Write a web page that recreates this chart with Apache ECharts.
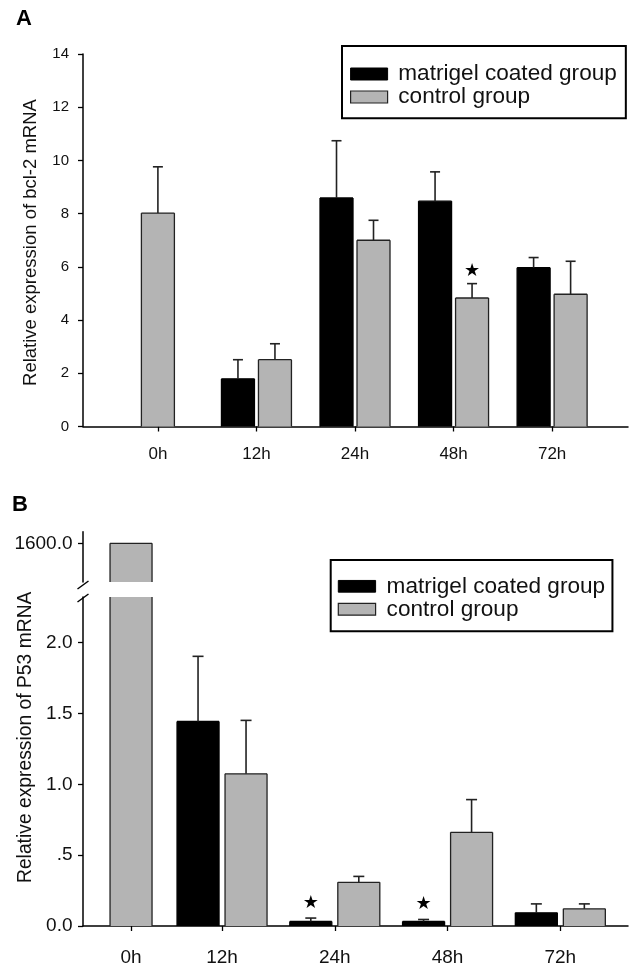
<!DOCTYPE html>
<html><head><meta charset="utf-8">
<script src="https://cdn.jsdelivr.net/npm/echarts@6/dist/echarts.min.js"></script>
<style>html,body{margin:0;padding:0;background:#fff}#c{width:629px;height:967px}</style>
</head><body><div id="c"></div>
<script>
// ---------------- data ----------------
const categories = ['0h', '12h', '24h', '48h', '72h'];
const seriesNames = ['matrigel coated group', 'control group'];

// Panel A: relative expression of bcl-2 mRNA
const A_matrigel    = [null, 1.79, 8.59, 8.47, 5.97];
const A_matrigelErr = [null, 0.72, 2.15, 1.10, 0.38];
const A_control     = [8.02, 2.51, 7.00, 4.83, 4.97];
const A_controlErr  = [1.74, 0.60, 0.75, 0.54, 1.24];
const A_matrigelStar = [false, false, false, false, false];
const A_controlStar  = [false, false, false, true, false];
const A_yTicks = [0, 2, 4, 6, 8, 10, 12, 14];

// Panel B: relative expression of P53 mRNA (broken axis)
const B_matrigel    = [null, 1.444, 0.032, 0.032, 0.093];
const B_matrigelErr = [null, 0.459, 0.024, 0.014, 0.063];
const B_control     = [1600.0, 1.074, 0.308, 0.661, 0.121];
const B_controlErr  = [null, 0.377, 0.042, 0.231, 0.035];
const B_matrigelStar = [false, false, true, true, false];
const B_controlStar  = [false, false, false, false, false];
const B_yTicks = [0, 0.5, 1, 1.5, 2];
const B_yTickLabels = ['0.0', '.5', '1.0', '1.5', '2.0'];
const B_yTicksTop = [1600];
const B_yTickLabelsTop = ['1600.0'];

// ---------------- layout ----------------
const A_slot = [0, 1, 2, 3, 4];
const B_slot = [0.193, 1, 2, 3, 4];
const FONT = 'Liberation Sans, Arial, sans-serif';
const TXT = '#111';
const BLACK = '#000', GRAY = '#b4b4b4', EDGE = '#222';

function buildData(slots, vals, errs, stars, other) {
  const out = [];
  vals.forEach((v, i) => {
    if (v == null) return;
    out.push([slots[i], v, errs[i] == null ? NaN : v + errs[i], stars[i] ? 1 : 0, other[i] == null ? 0 : 1]);
  });
  return out;
}

function barRenderer(cfg) {
  return function (params, api) {
    const cs = params.coordSys;
    const xv = api.value(0), v = api.value(1), et = api.value(2), star = api.value(3), paired = api.value(4);
    const c = api.coord([xv, v]);
    const cx = c[0] + (paired ? cfg.offset : 0);
    const rawTop = c[1];
    const rawBottom = api.coord([xv, cfg.base])[1];
    const gTop = cs.y, gBot = cs.y + cs.height;
    const top = Math.max(rawTop, gTop), bottom = Math.min(rawBottom, gBot);
    const w = cfg.barW, L = cx - w / 2, R = cx + w / 2;
    const ls = { stroke: cfg.stroke, lineWidth: cfg.lw };
    const ch = [
      { type: 'rect', shape: { x: L, y: top, width: w, height: bottom - top }, style: { fill: cfg.fill } },
      { type: 'line', shape: { x1: L, y1: top, x2: L, y2: bottom }, style: ls },
      { type: 'line', shape: { x1: R, y1: top, x2: R, y2: bottom }, style: ls }
    ];
    if (rawTop >= gTop) ch.push({ type: 'line', shape: { x1: L, y1: top, x2: R, y2: top }, style: ls });
    let markY = top;
    if (!isNaN(et)) {
      const ey = api.coord([xv, et])[1];
      const es = { stroke: '#222', lineWidth: 1.6 };
      ch.push({ type: 'line', shape: { x1: cx, y1: top, x2: cx, y2: ey }, style: es });
      ch.push({ type: 'line', shape: { x1: cx - cfg.capW / 2, y1: ey, x2: cx + cfg.capW / 2, y2: ey }, style: es });
      markY = ey;
    }
    if (star) {
      ch.push({ type: 'text', x: cx, y: markY - cfg.starGap,
        style: { text: '\u2605', fill: '#000', font: '18px DejaVu Sans', align: 'center', verticalAlign: 'middle' } });
    }
    return { type: 'group', children: ch };
  };
}

function breakRenderer(where) {
  return function (params) {
    const cs = params.coordSys;
    const x = cs.x;
    const y = where === 'bottom' ? cs.y + cs.height + 3 : cs.y + 1;
    return { type: 'line', shape: { x1: x - 5.5, y1: y + 4, x2: x + 5.5, y2: y - 4 },
      style: { stroke: '#000', lineWidth: 1.4 } };
  };
}

const axisLine = { show: true, onZero: false, lineStyle: { color: '#000', width: 1.5 } };
const axisTick = { show: true, inside: false, length: 5, lineStyle: { color: '#000', width: 1.3 } };

function xLabelFmt(slots) {
  return function (v) {
    let best = 0;
    slots.forEach((s, i) => { if (Math.abs(s - v) < Math.abs(slots[best] - v)) best = i; });
    return categories[best];
  };
}

const legendItems = [
  { name: seriesNames[0], icon: 'rect', itemStyle: { color: BLACK, borderColor: BLACK, borderWidth: 1 } },
  { name: seriesNames[1], icon: 'rect', itemStyle: { color: GRAY, borderColor: EDGE, borderWidth: 1.2 } }
];

const option = {
  animation: false,
  backgroundColor: '#fff',
  textStyle: { fontFamily: FONT, color: TXT },
  title: [
    { text: 'A', left: 16, top: 8, padding: 0, textStyle: { fontSize: 22, lineHeight: 22, fontWeight: 'bold', fontFamily: FONT, color: '#000' } },
    { text: 'B', left: 12, top: 494, padding: 0, textStyle: { fontSize: 22, lineHeight: 22, fontWeight: 'bold', fontFamily: FONT, color: '#000' } }
  ],
  legend: [
    { left: 342, top: 46, orient: 'vertical', data: legendItems, selectedMode: false,
      itemWidth: 37, itemHeight: 12, itemGap: 0, padding: [16.5, 9, 9.7, 8],
      borderColor: '#000', borderWidth: 2,
      textStyle: { fontFamily: FONT, fontSize: 22.6, lineHeight: 22, color: TXT, padding: [0, 0, 0, 5.7] } },
    { left: 330.7, top: 560, orient: 'vertical', data: legendItems, selectedMode: false,
      itemWidth: 37.3, itemHeight: 11.7, itemGap: 0, padding: [14.8, 7.3, 10.5, 7],
      borderColor: '#000', borderWidth: 2,
      textStyle: { fontFamily: FONT, fontSize: 22.6, lineHeight: 21.7, color: TXT, padding: [0, 0, 0, 6] } }
  ],
  grid: [
    { left: 83, top: 54, width: 545, height: 372.5 },
    { left: 83, top: 531.7, width: 545, height: 50.3 },
    { left: 83, top: 597, width: 545, height: 331.3 }
  ],
  xAxis: [
    { type: 'value', gridIndex: 0, min: -0.76, max: 4.77, splitLine: { show: false }, axisLine,
      axisTick: Object.assign({ customValues: A_slot }, axisTick),
      axisLabel: { customValues: A_slot, formatter: xLabelFmt(A_slot), fontSize: 17, margin: 19, color: TXT, fontFamily: FONT } },
    { type: 'value', gridIndex: 1, min: -0.233, max: 4.6, show: false, splitLine: { show: false } },
    { type: 'value', gridIndex: 2, min: -0.233, max: 4.6, splitLine: { show: false }, axisLine,
      axisTick: Object.assign({ customValues: B_slot }, axisTick),
      axisLabel: { customValues: B_slot, formatter: xLabelFmt(B_slot), fontSize: 19, margin: 22, color: TXT, fontFamily: FONT } }
  ],
  yAxis: [
    { type: 'value', gridIndex: 0, min: 0, max: 14, interval: 2, splitLine: { show: false }, axisLine, axisTick,
      axisLabel: { customValues: A_yTicks, fontSize: 15, margin: 14, color: TXT, fontFamily: FONT },
      name: 'Relative expression of bcl-2 mRNA', nameLocation: 'middle', nameGap: 43,
      nameTextStyle: { fontSize: 18.5, color: TXT, fontFamily: FONT, padding: [0, 4.5, 0, 0] } },
    { type: 'value', gridIndex: 1, min: 1599.7288, max: 1600.0813, splitLine: { show: false }, axisLine,
      axisTick: Object.assign({ customValues: B_yTicksTop }, axisTick),
      axisLabel: { customValues: B_yTicksTop, formatter: v => B_yTickLabelsTop[0], fontSize: 19, margin: 10.5, color: TXT, fontFamily: FONT } },
    { type: 'value', gridIndex: 2, min: 0, max: 2.3217, splitLine: { show: false }, axisLine,
      axisTick: Object.assign({ customValues: B_yTicks }, axisTick),
      axisLabel: { customValues: B_yTicks, fontSize: 19, margin: 10.5, color: TXT, fontFamily: FONT,
        formatter: v => { let b = 0; B_yTicks.forEach((t, i) => { if (Math.abs(t - v) < Math.abs(B_yTicks[b] - v)) b = i; }); return B_yTickLabels[b]; } },
      name: 'Relative expression of P53 mRNA', nameLocation: 'middle', nameGap: 45.7,
      nameTextStyle: { fontSize: 19.3, color: TXT, fontFamily: FONT, padding: [0, 0, 0, 48.4] } }
  ],
  series: [
    { type: 'custom', name: seriesNames[0], xAxisIndex: 0, yAxisIndex: 0,
      renderItem: barRenderer({ offset: -18.5, barW: 33, fill: BLACK, stroke: BLACK, lw: 1.3, capW: 10, starGap: 12, base: 0 }),
      data: buildData(A_slot, A_matrigel, A_matrigelErr, A_matrigelStar, A_control) },
    { type: 'custom', name: seriesNames[1], xAxisIndex: 0, yAxisIndex: 0,
      renderItem: barRenderer({ offset: 18.5, barW: 33, fill: GRAY, stroke: EDGE, lw: 1.3, capW: 10, starGap: 12, base: 0 }),
      data: buildData(A_slot, A_control, A_controlErr, A_controlStar, A_matrigel) },
    { type: 'custom', name: seriesNames[0], xAxisIndex: 2, yAxisIndex: 2,
      renderItem: barRenderer({ offset: -24, barW: 42, fill: BLACK, stroke: BLACK, lw: 1.3, capW: 11, starGap: 15, base: 0 }),
      data: buildData(B_slot, B_matrigel, B_matrigelErr, B_matrigelStar, B_control) },
    { type: 'custom', name: seriesNames[1], xAxisIndex: 2, yAxisIndex: 2,
      renderItem: barRenderer({ offset: 24, barW: 42, fill: GRAY, stroke: EDGE, lw: 1.3, capW: 11, starGap: 15, base: 0 }),
      data: buildData(B_slot, B_control, B_controlErr, B_controlStar, B_matrigel) },
    { type: 'custom', name: seriesNames[1], xAxisIndex: 1, yAxisIndex: 1,
      renderItem: barRenderer({ offset: 24, barW: 42, fill: GRAY, stroke: EDGE, lw: 1.3, capW: 11, starGap: 15, base: 0 }),
      data: buildData(B_slot, B_control, B_controlErr, B_controlStar, B_matrigel).filter(d => d[1] > 1599.7288) },
    { type: 'custom', xAxisIndex: 1, yAxisIndex: 1, silent: true, renderItem: breakRenderer('bottom'), data: [[0, 1600]] },
    { type: 'custom', xAxisIndex: 2, yAxisIndex: 2, silent: true, renderItem: breakRenderer('top'), data: [[0, 1]] }
  ]
};

const chart = echarts.init(document.getElementById('c'), null, { renderer: 'canvas' });
chart.setOption(option);
</script>
</body></html>
